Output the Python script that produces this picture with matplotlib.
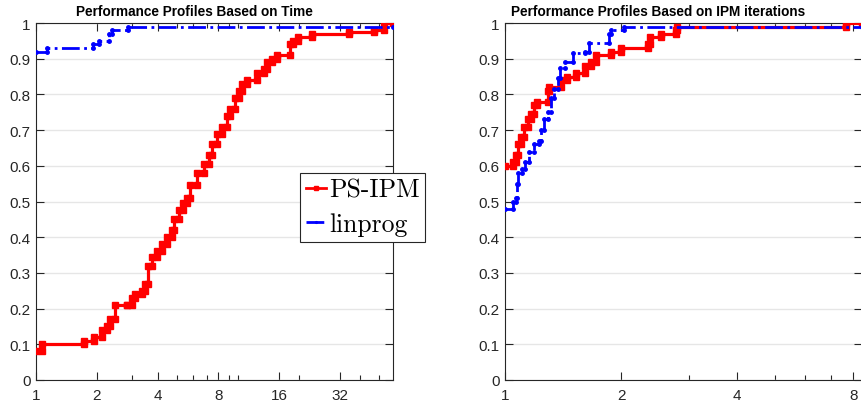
import numpy as np
import matplotlib
matplotlib.use('Agg')
import matplotlib.pyplot as plt
from matplotlib.ticker import FixedLocator, NullFormatter

# Performance profile data: (tau, fraction of problems)
time_ps_tau = [1.0, 1.07, 1.72, 1.93, 2.12, 2.25, 2.33, 2.47, 2.82, 2.98, 3.1, 3.34, 3.47,
               3.6, 3.75, 3.97, 4.2, 4.45, 4.7, 4.8, 5.08, 5.37, 5.59, 5.8, 6.26, 6.75,
               7.15, 7.43, 7.86, 8.34, 8.83, 9.16, 9.68, 10.06, 10.45, 11.04, 12.4, 13.4,
               13.9, 14.7, 15.6, 18.1, 18.8, 19.9, 23.3, 35.3, 46.9, 52.5]
time_ps_rho = [0.08, 0.10, 0.11, 0.12, 0.14, 0.15, 0.17, 0.21, 0.21, 0.23, 0.24, 0.25, 0.27,
               0.32, 0.345, 0.36, 0.38, 0.40, 0.42, 0.45, 0.475, 0.495, 0.51, 0.545, 0.58, 0.605,
               0.63, 0.66, 0.69, 0.71, 0.74, 0.76, 0.79, 0.81, 0.83, 0.84, 0.86, 0.87,
               0.89, 0.90, 0.91, 0.94, 0.95, 0.96, 0.97, 0.975, 0.98, 1.0]

time_lp_tau = [1.0, 1.13, 1.92, 2.04, 2.3, 2.38, 2.86]
time_lp_rho = [0.92, 0.93, 0.94, 0.95, 0.97, 0.98, 0.99]

iter_ps_tau = [1.0, 1.047, 1.07, 1.08, 1.10, 1.118, 1.145, 1.168, 1.19, 1.21, 1.29, 1.30,
               1.40, 1.45, 1.53, 1.61, 1.67, 1.72, 1.88, 2.0, 2.35, 2.37, 2.54, 2.78, 2.8, 7.67]
iter_ps_rho = [0.60, 0.61, 0.63, 0.66, 0.68, 0.71, 0.73, 0.745, 0.77, 0.78, 0.81, 0.82,
               0.84, 0.85, 0.86, 0.88, 0.89, 0.91, 0.92, 0.93, 0.94, 0.96, 0.97, 0.98, 0.99, 1.0]

iter_lp_tau = [1.0, 1.047, 1.07, 1.075, 1.08, 1.11, 1.13, 1.156, 1.19, 1.227, 1.24, 1.265,
               1.29, 1.316, 1.34, 1.37, 1.39, 1.43, 1.50, 1.61, 1.655, 1.86, 1.88, 2.04]
iter_lp_rho = [0.48, 0.50, 0.51, 0.55, 0.58, 0.59, 0.61, 0.64, 0.66, 0.67, 0.70, 0.73,
               0.75, 0.79, 0.815, 0.845, 0.875, 0.89, 0.915, 0.92, 0.945, 0.97, 0.98, 0.99]

titles = ['Performance Profiles Based on Time', 'Performance Profiles Based on IPM iterations']
labels = ['PS-IPM', 'linprog']
x_ticks = [[1, 2, 4, 8, 16, 32], [1, 2, 4, 8]]
x_minor = [[3, 5, 6, 7, 9, 10, 20, 40, 50], [3, 5, 6, 7]]
x_max = [58.5, 8.43]


def stairs(tau, rho, tau_end):
    # stair corners so markers sit on both ends of each jump, like the MATLAB plot
    tau = np.asarray(tau, float)
    rho = np.asarray(rho, float)
    xs = np.repeat(tau, 2)[1:]
    ys = np.repeat(rho, 2)[:-1]
    xs = np.append(xs, tau_end)
    ys = np.append(ys, rho[-1])
    return xs, ys


plt.rcParams['font.family'] = ['Liberation Sans', 'DejaVu Sans']
axcol = '#262626'

fig = plt.figure(figsize=(8.62, 4.06), dpi=100)
ax1 = fig.add_axes([36 / 862, 25 / 406, 357 / 862, 357 / 406])
ax2 = fig.add_axes([505 / 862, 25 / 406, 357 / 862, 357 / 406])

data = [((time_ps_tau, time_ps_rho), (time_lp_tau, time_lp_rho)),
        ((iter_ps_tau, iter_ps_rho), (iter_lp_tau, iter_lp_rho))]
title_x = [0.444, 0.429]

for i, ax in enumerate([ax1, ax2]):
    (pt, pr), (lt, lr) = data[i]
    xs, ys = stairs(pt, pr, x_max[i])
    ax.plot(xs, ys, color='red', lw=2.3, marker='s', ms=5, label=labels[0], zorder=3)
    xs, ys = stairs(lt, lr, x_max[i])
    ax.plot(xs, ys, color='blue', lw=2.0, ls='-.', marker='.', ms=5, label=labels[1], zorder=4)

    ax.set_xscale('log', base=2)
    ax.set_xlim(1, x_max[i])
    ax.set_ylim(0, 1)
    ax.xaxis.set_major_locator(FixedLocator(x_ticks[i]))
    ax.set_xticklabels([str(t) for t in x_ticks[i]])
    ax.xaxis.set_minor_locator(FixedLocator(x_minor[i]))
    ax.xaxis.set_minor_formatter(NullFormatter())
    ax.set_yticks(np.arange(0, 1.01, 0.1))
    ax.set_yticklabels(['0'] + ['%.1f' % v for v in np.arange(0.1, 0.95, 0.1)] + ['1'])
    ax.yaxis.grid(True, color='#e6e6e6', lw=1.0)
    ax.set_axisbelow(True)
    ax.tick_params(which='both', direction='in', top=True, right=True, colors=axcol,
                   labelsize=11)
    ax.tick_params(axis='x', pad=6)
    ax.tick_params(axis='y', pad=4)
    ax.tick_params(which='major', length=6, width=0.8)
    ax.tick_params(which='minor', length=3.5, width=0.8)
    for s in ax.spines.values():
        s.set_color(axcol)
        s.set_linewidth(0.8)
    ax.text(title_x[i], 1.014, titles[i], transform=ax.transAxes, ha='center', va='bottom',
            fontsize=9.8, fontweight='bold', color='black')

leg = ax1.legend(loc='upper left', bbox_to_anchor=(300.5 / 862, 1 - 174 / 406),
                 bbox_transform=fig.transFigure, prop={'family': 'cmr10', 'size': 18.5},
                 handlelength=0.78, handletextpad=0.14, borderpad=0.2, labelspacing=0.42,
                 borderaxespad=0, fancybox=False, framealpha=1, edgecolor=axcol,
                 markerscale=0.5)
leg.get_frame().set_linewidth(0.8)
for h in leg.get_lines():
    h.set_linewidth(2.0)
for t in leg.get_texts():
    t.set_color('black')

fig.savefig('out.png', dpi=100)
